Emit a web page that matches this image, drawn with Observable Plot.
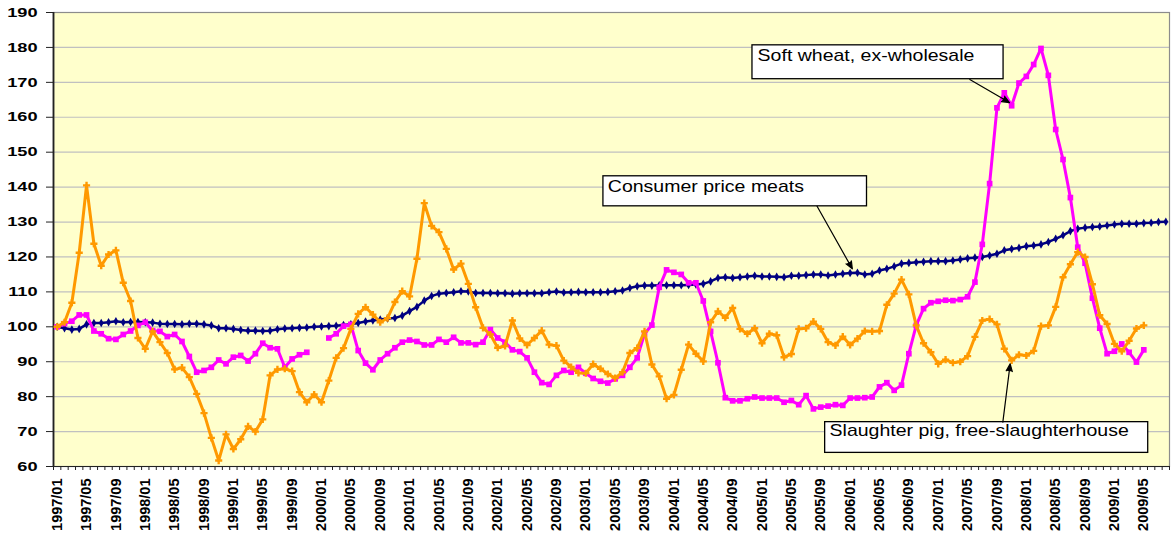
<!DOCTYPE html>
<html><head><meta charset="utf-8">
<script src="https://cdn.jsdelivr.net/npm/d3@7"></script>
<script src="https://cdn.jsdelivr.net/npm/@observablehq/plot@0.6"></script>
<style>body{margin:0;background:#fff}</style>
</head><body><div id="chart"></div>
<script>
// Monthly categories 1997/01 .. 2009/08
const months = [];
for (let k = 0; k < 152; k++) {
  const y = 1997 + Math.floor(k / 12), m = (k % 12) + 1;
  months.push(`${y}/${String(m).padStart(2, "0")}`);
}
// Labelled months (every fourth): 1997/01 ... 2009/05
const labelMonths = months.filter((d, i) => i % 4 === 0 && i <= 148);

const yTicks = [60, 70, 80, 90, 100, 110, 120, 130, 140, 150, 160, 170, 180, 190];

// Consumer price meats
const cpi = [100.0,99.6,99.2,99.4,100.7,101.1,101.1,101.3,101.6,101.3,101.4,101.4,
101.3,101.2,100.9,100.8,100.8,100.7,100.9,100.9,100.7,100.4,99.6,99.6,
99.4,99.1,98.9,98.9,98.8,98.9,99.3,99.5,99.6,99.7,99.8,100.0,
100.1,100.2,100.3,100.5,100.7,101.1,101.5,101.8,102.1,102.4,102.5,103.2,
104.5,105.7,107.5,108.8,109.5,109.7,109.9,110.2,110.1,109.7,109.7,109.7,
109.6,109.6,109.5,109.6,109.6,109.6,109.6,109.9,110.1,109.8,109.9,110.0,
109.9,109.9,109.9,110.0,110.2,110.4,111.1,111.6,111.8,111.8,111.9,111.9,
111.9,111.9,112.0,112.1,112.3,113.0,114.0,114.2,114.0,114.2,114.4,114.6,
114.4,114.4,114.3,114.2,114.6,114.6,114.8,115.0,115.0,114.7,115.0,115.2,
115.4,115.5,115.0,115.2,116.1,116.6,117.3,118.1,118.3,118.5,118.6,118.8,
118.8,118.8,119.0,119.3,119.6,119.8,120.0,120.4,120.9,121.9,122.3,122.6,
123.1,123.3,123.6,124.3,125.2,126.2,127.4,128.1,128.4,128.6,128.7,129.0,
129.3,129.5,129.5,129.5,129.7,129.8,130.0,130.1];

// Soft wheat, ex-wholesale
const wheat = [100.0,100.9,101.6,103.4,103.4,98.8,98.0,96.6,96.4,97.8,98.8,100.4,
101.3,98.9,98.7,97.2,97.8,95.8,91.5,87.0,87.5,88.4,90.5,89.4,
91.3,91.8,90.2,92.3,95.3,94.0,93.7,88.4,90.8,92.0,92.7,null,
null,96.8,98.0,100.2,100.7,93.2,89.6,87.7,90.5,92.3,94.0,95.6,
96.2,95.8,94.8,94.8,96.4,95.6,97.0,95.4,95.4,94.9,95.6,99.2,
96.8,95.6,93.4,92.9,91.1,87.0,84.0,83.5,86.1,87.5,87.0,88.4,
86.7,85.2,84.4,83.9,85.1,86.1,88.4,91.1,98.0,100.5,111.3,116.3,
115.6,115.0,112.6,112.6,107.4,98.7,89.7,79.7,78.8,78.8,79.4,79.9,
79.6,79.6,79.6,78.4,78.9,77.7,80.3,76.5,77.0,77.3,77.7,77.5,
79.6,79.6,79.7,79.9,82.8,84.0,81.8,83.3,92.3,100.4,105.2,106.9,
107.3,107.6,107.5,107.8,108.6,112.8,123.6,141.0,162.7,167.0,163.3,169.8,
171.7,175.1,179.7,172.0,156.5,147.9,137.0,122.8,118.2,108.2,99.6,92.3,
93.0,95.1,92.7,89.9,93.4];

// Slaughter pig, free-slaughterhouse
const pig = [100.0,101.3,106.9,121.2,140.5,123.8,117.5,120.7,121.9,112.6,107.4,96.8,
93.7,98.7,95.6,92.5,87.8,88.3,85.6,80.8,75.3,68.2,61.7,69.2,
65.0,67.8,71.5,70.0,73.5,86.1,87.8,88.0,87.3,81.3,78.4,80.6,
78.4,84.6,91.1,93.9,99.4,103.7,105.6,103.5,101.3,102.5,107.1,110.2,
108.7,119.5,135.4,128.9,127.1,122.3,116.4,118.1,112.3,105.6,99.7,97.8,
94.0,94.5,101.8,96.7,94.8,96.8,98.9,94.9,94.6,90.3,88.5,86.8,
86.7,89.3,88.0,86.5,85.3,87.0,92.5,93.9,98.7,89.2,85.8,79.4,
80.5,87.7,94.9,92.3,90.1,101.3,104.4,102.6,105.4,99.4,98.0,99.6,
95.3,98.0,97.6,91.3,92.2,99.4,99.6,101.5,99.4,95.6,94.7,97.2,
94.8,96.6,98.8,98.7,98.8,106.3,109.5,113.5,109.3,100.4,95.3,92.7,
89.4,90.6,89.7,90.0,91.6,97.1,101.8,102.2,100.7,93.7,90.4,92.0,
91.8,93.1,100.2,100.4,105.7,114.2,117.9,121.4,120.0,112.2,103.3,100.8,
95.1,93.0,96.0,99.5,100.4];

const seriesNames = ["Consumer price meats", "Soft wheat, ex-wholesale", "Slaughter pig, free-slaughterhouse"];

const toRows = (arr) => arr.map((v, i) => ({i, v}));
const cpiRows = toRows(cpi), wheatRows = toRows(wheat), pigRows = toRows(pig);

// Callout boxes (data coordinates: month index / index value)
const boxes = [
  {x1: 94.7, x2: 128.9, y1: 170.9, y2: 180.6},
  {x1: 74.4, x2: 110.3, y1: 134.5, y2: 143.1},
  {x1: 104.6, x2: 148.6, y1: 63.9, y2: 72.7}
];
const notes = [
  {x: 95.4, y: 177.6, t: seriesNames[1]},
  {x: 75.0, y: 140.2, t: seriesNames[0]},
  {x: 105.2, y: 70.3, t: seriesNames[2]}
];
const arrows = [
  {x1: 124.3, y1: 170.8, x2: 129.7, y2: 164.2},
  {x1: 103.5, y1: 134.5, x2: 108.3, y2: 116.6},
  {x1: 128.8, y1: 72.7, x2: 129.8, y2: 89.4}
];

const chart = Plot.plot({
  width: 1171, height: 533,
  marginLeft: 53, marginRight: 2, marginTop: 12, marginBottom: 67,
  style: {fontFamily: "'Liberation Sans', Arial, sans-serif", background: "white", overflow: "visible"},
  x: {type: "linear", domain: [-0.5, 151.5]},
  y: {domain: [60, 190]},
  marks: [
    Plot.frame({fill: "#ffffcc", stroke: null}),
    Plot.gridY({ticks: yTicks.slice(1), stroke: "#c0c0c0", strokeOpacity: 1, strokeWidth: 1.2}),
    Plot.frame({stroke: "#8c8c8c", strokeWidth: 1.2}),
    Plot.ruleX([-0.5], {stroke: "#222", strokeWidth: 1.8}),
    Plot.ruleY([60], {stroke: "#222", strokeWidth: 1.2}),
    Plot.axisY({ticks: yTicks, tickSize: 7, tickPadding: 9, fontSize: 13, fontWeight: "bold", label: null, stroke: "#222", fill: "black"}),
    Plot.axisX({ticks: d3.range(-0.5, 152, 1), tickSize: 4, tickFormat: () => "", label: null, stroke: "#222"}),
    Plot.axisX({ticks: d3.range(0, 149, 4), tickFormat: (i) => months[i], tickRotate: -90, tickSize: 0, tickPadding: 12, fontSize: 14.5, fontWeight: "bold", label: null, fill: "black"}),
    Plot.line(cpiRows, {x: "i", y: "v", stroke: "#000080", strokeWidth: 2.5}),
    Plot.dot(cpiRows, {x: "i", y: "v", symbol: "diamond", r: 2.6, fill: "#000080"}),
    Plot.line(wheatRows, {x: "i", y: "v", stroke: "#ff00ff", strokeWidth: 3}),
    Plot.dot(wheatRows, {x: "i", y: "v", symbol: "square", r: 3.2, fill: "#ff00ff"}),
    Plot.line(pigRows, {x: "i", y: "v", stroke: "#ff9900", strokeWidth: 3}),
    Plot.dot(pigRows, {x: "i", y: "v", symbol: "cross", r: 3, fill: "#ff9900"}),
    Plot.rect(boxes, {x1: "x1", x2: "x2", y1: "y1", y2: "y2", fill: "white", stroke: "black", strokeWidth: 1.3}),
    Plot.arrow(arrows, {x1: "x1", y1: "y1", x2: "x2", y2: "y2", stroke: "black", strokeWidth: 1.2, headLength: 10, headAngle: 45}),
    Plot.text(notes, {x: "x", y: "y", text: "t", textAnchor: "start", fontSize: 16, fill: "black"})
  ]
});
document.getElementById("chart").appendChild(chart);

// Horizontal stretch of texts, as in the original rendering
function stretch(sel, sx) {
  d3.select(chart).selectAll(sel).each(function () {
    let t = this.getAttribute("transform");
    if (!t) {
      const x = this.getAttribute("x") || 0, y = this.getAttribute("y") || 0;
      this.removeAttribute("x"); this.removeAttribute("y");
      t = `translate(${x},${y})`;
    }
    this.setAttribute("transform", `${t} scale(${sx},1)`);
  });
}
stretch('g[aria-label="y-axis tick label"] text', 1.4);
stretch('g[aria-label="text"] text', 1.22);
// Filled arrow heads (the head sub-path closes into a triangle when filled)
d3.select(chart).selectAll('g[aria-label="arrow"] path').attr("fill", "black");
</script>
</body></html>
